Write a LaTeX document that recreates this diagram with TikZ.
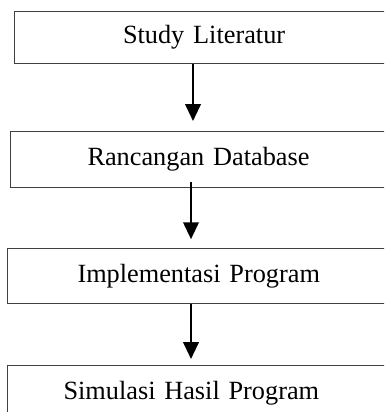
\documentclass[tikz,border=0pt]{standalone}
\usepackage{fontspec}
\setmainfont{Liberation Serif}
\usetikzlibrary{arrows.meta}

\begin{document}
\begin{tikzpicture}[x=0.025cm, y=-0.025cm,
    box/.style={draw=black!75, line width=0.7pt, minimum width=10cm,
      align=left, anchor=north west, font=\fontsize{18.7}{22}\selectfont},
    arr/.style={-{Triangle[width=11pt, length=12pt]}, line width=1.6pt}]
  \useasboundingbox (0,0) rectangle (384,412);
  \clip (0,0) rectangle (384,412);

  % Kotak
  \node[box, minimum height=1.3cm, text width=4.575cm] (studi) at (14,11) {Study Literatur};
  \node[box, minimum height=1.4cm, text width=6.15cm] (rancang) at (10,131) {Rancangan Database};
  \node[box, minimum height=1.375cm, text width=6.5cm] (impl) at (7,248) {Implementasi Program};
  \node[box, minimum height=1.4cm, text width=7.2cm] (simul) at (7,365) {Simulasi Hasil Program};

  \coordinate (pa) at (193,0);
  \coordinate (pb) at (191,0);

  % Panah
  \draw[arr, shorten >=0.25cm] (studi.south -| pa) -- (rancang.north -| pa);
  \draw[arr, shorten <=-0.15cm, shorten >=0.22cm] (rancang.south -| pb) -- (impl.north -| pb);
  \draw[arr, shorten >=0.15cm] (impl.south -| pb) -- (simul.north -| pb);
\end{tikzpicture}
\end{document}
